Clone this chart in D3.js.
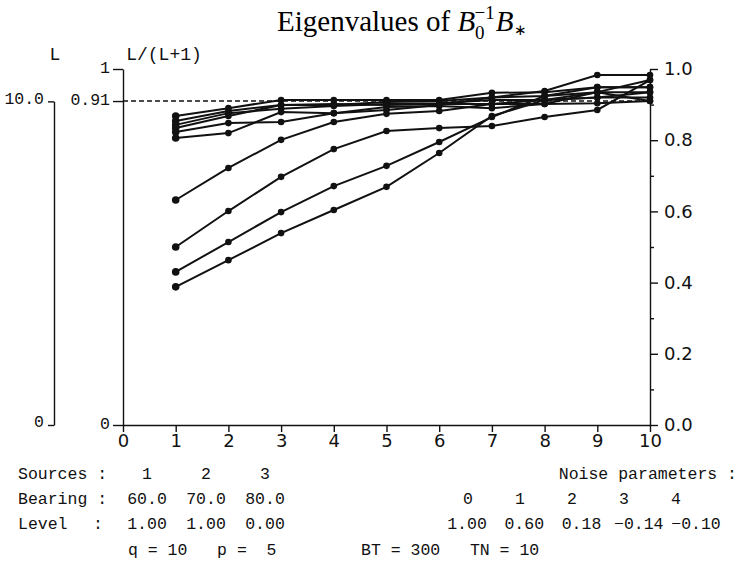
<!DOCTYPE html>
<html lang="en">
<head>
    <meta charset="UTF-8">
    <title>Eigenvalues</title>
    <script src="https://d3js.org/d3.v7.min.js"></script>
    <style>
        body{ margin: 0; background: #fff; }
        .mono{ font-family: "Liberation Mono", monospace; font-size: 16.5px; fill: #111; white-space: pre; }
        .num{ font-family: "DejaVu Sans", sans-serif; font-size: 18px; fill: #111; }
    </style>
</head>
<body>
    <div id="chart"></div>
    <script>
        // eigen index along x
        const eigIndex = [1, 2, 3, 4, 5, 6, 7, 8, 9, 10];

        // L/(L+1) values, one array per curve
        const curve1  = [0.868, 0.890, 0.913, 0.913, 0.913, 0.913, 0.933, 0.935, 0.949, 0.949];
        const curve2  = [0.854, 0.882, 0.899, 0.899, 0.907, 0.910, 0.920, 0.924, 0.935, 0.935];
        const curve3  = [0.843, 0.876, 0.888, 0.896, 0.902, 0.904, 0.913, 0.913, 0.920, 0.920];
        const curve4  = [0.834, 0.868, 0.899, 0.902, 0.899, 0.902, 0.902, 0.902, 0.904, 0.910];
        const curve5  = [0.823, 0.848, 0.851, 0.876, 0.893, 0.896, 0.890, 0.902, 0.935, 0.969];
        const curve6  = [0.806, 0.820, 0.879, 0.876, 0.885, 0.899, 0.920, 0.938, 0.983, 0.983];
        const curve7  = [0.632, 0.722, 0.801, 0.851, 0.874, 0.882, 0.902, 0.913, 0.920, 0.935];
        const curve8  = [0.500, 0.601, 0.697, 0.775, 0.826, 0.834, 0.840, 0.865, 0.885, 0.969];
        const curve9  = [0.430, 0.514, 0.598, 0.671, 0.728, 0.795, 0.865, 0.924, 0.949, 0.949];
        const curve10 = [0.388, 0.463, 0.539, 0.604, 0.669, 0.764, 0.868, 0.913, 0.935, 0.910];
        const curves = [curve1, curve2, curve3, curve4, curve5, curve6, curve7, curve8, curve9, curve10];

        // parameter tables printed below the plot
        const sources = ["1", "2", "3"];
        const bearing = ["60.0", "70.0", "80.0"];
        const level = ["1.00", "1.00", "0.00"];
        const noiseIdx = ["0", "1", "2", "3", "4"];
        const noiseVal = ["1.00", "0.60", "0.18", "\u22120.14", "\u22120.10"];

        const width = 738, height = 562;
        const svg = d3.select("#chart").append("svg")
            .attr("width", width)
            .attr("height", height);

        const x = d3.scaleLinear().domain([0, 10]).range([123, 650]);
        const y = d3.scaleLinear().domain([0, 1]).range([425, 69]);
        const yL = d3.scaleLinear().domain([0, 10]).range([y(0), y(10 / 11)]);

        // title
        const title = svg.append("text")
            .attr("x", 277).attr("y", 31)
            .style("font-family", "'Liberation Serif', serif")
            .style("font-size", "29px");
        title.append("tspan").text("Eigenvalues of ");
        title.append("tspan").style("font-style", "italic").text("B");
        title.append("tspan").attr("dy", 8).style("font-size", "19px").text("0");
        title.append("tspan").attr("dx", -10).attr("dy", -20).style("font-size", "19px").text("\u22121");
        title.append("tspan").attr("dx", 1).attr("dy", 12).style("font-style", "italic").text("B");
        title.append("tspan").attr("dy", 4).style("font-size", "15px").text("\u2217");

        // dashed reference at 0.91
        svg.append("line")
            .attr("x1", x(0)).attr("x2", x(10))
            .attr("y1", y(0.91)).attr("y2", y(0.91))
            .attr("stroke", "#111").attr("stroke-width", 1.5)
            .attr("stroke-dasharray", "5,3");

        // bottom axis
        const gx = svg.append("g")
            .attr("transform", `translate(0,${y(0)})`)
            .call(d3.axisBottom(x).ticks(10).tickSize(7).tickSizeOuter(0).tickPadding(2));
        gx.selectAll("text").attr("class", "num").attr("font-family", null).attr("font-size", null);

        // right axis, major and minor ticks
        const gr = svg.append("g")
            .attr("transform", `translate(${x(10)},0)`)
            .call(d3.axisRight(y).tickValues([0, 0.2, 0.4, 0.6, 0.8, 1.0])
                .tickFormat(d3.format(".1f")).tickSize(8).tickSizeOuter(0).tickPadding(6));
        gr.selectAll("text").attr("class", "num").attr("font-family", null).attr("font-size", null);
        svg.append("g")
            .attr("transform", `translate(${x(10)},0)`)
            .call(d3.axisRight(y).tickValues([0.1, 0.3, 0.5, 0.7, 0.9]).tickFormat("").tickSize(4).tickSizeOuter(0))
            .select(".domain").remove();

        // left axis L/(L+1)
        const gl = svg.append("g")
            .attr("transform", `translate(${x(0)},0)`)
            .call(d3.axisLeft(y).tickValues([0, 0.91, 1])
                .tickFormat(d => d === 0.91 ? "0.91" : d3.format("d")(d))
                .tickSize(10).tickSizeOuter(0).tickPadding(3));
        gl.selectAll("text").attr("class", "mono").attr("font-family", null).attr("font-size", null).attr("dy", "0.2em");

        // L axis
        const gL = svg.append("g")
            .attr("transform", "translate(54,0)")
            .call(d3.axisLeft(yL).tickValues([0, 10])
                .tickFormat(d => d === 10 ? "10.0" : "0")
                .tickSize(6).tickSizeOuter(0).tickPadding(4));
        gL.selectAll("text").attr("class", "mono").attr("font-family", null).attr("font-size", null).attr("dy", "0.1em");
        svg.selectAll(".domain, .tick line").attr("stroke", "#111").attr("stroke-width", 1.4);

        svg.append("text").attr("class", "mono").style("font-size", "18px")
            .attr("x", 55).attr("y", 60).attr("text-anchor", "middle").text("L");
        svg.append("text").attr("class", "mono").style("font-size", "18px")
            .attr("x", 164).attr("y", 60).attr("text-anchor", "middle").text("L/(L+1)");

        // curves
        const line = d3.line().x((d, i) => x(eigIndex[i])).y(d => y(d));
        svg.selectAll(".curve")
            .data(curves)
            .enter().append("path")
            .attr("class", "curve")
            .attr("d", line)
            .attr("fill", "none")
            .attr("stroke", "#111")
            .attr("stroke-width", 2);

        curves.forEach(c => {
            svg.selectAll(null)
                .data(c)
                .enter().append("circle")
                .attr("cx", (d, i) => x(eigIndex[i]))
                .attr("cy", d => y(d))
                .attr("r", (d, i) => i === 0 ? 3.8 : 3.3)
                .attr("fill", "#111");
        });

        // parameter text
        const colL = d3.scalePoint().domain([0, 1, 2]).range([147, 265]);
        const colR = d3.scalePoint().domain([0, 1, 2, 3, 4]).range([468, 676]);
        const colRV = d3.scalePoint().domain([0, 1, 2, 3, 4]).range([467, 696]);
        const rows = [479, 504, 529, 555];

        const label = (tx, ty, str, anchor) => svg.append("text").attr("class", "mono")
            .attr("x", tx).attr("y", ty).attr("text-anchor", anchor || "start")
            .attr("xml:space", "preserve").text(str);

        label(18, rows[0], "Sources :");
        label(18, rows[1], "Bearing :");
        label(18, rows[2], "Level");
        label(93, rows[2], ":");
        sources.forEach((s, i) => label(colL(i), rows[0], s, "middle"));
        bearing.forEach((s, i) => label(colL(i), rows[1], s, "middle"));
        level.forEach((s, i) => label(colL(i), rows[2], s, "middle"));

        label(737, rows[0], "Noise parameters :", "end");
        noiseIdx.forEach((s, i) => label(colR(i), rows[1], s, "middle"));
        noiseVal.forEach((s, i) => label(colRV(i), rows[2], s, "middle"));

        label(128, rows[3], "q = 10   p =  5");
        label(361, rows[3], "BT = 300   TN = 10");
    </script>
</body>
</html>
